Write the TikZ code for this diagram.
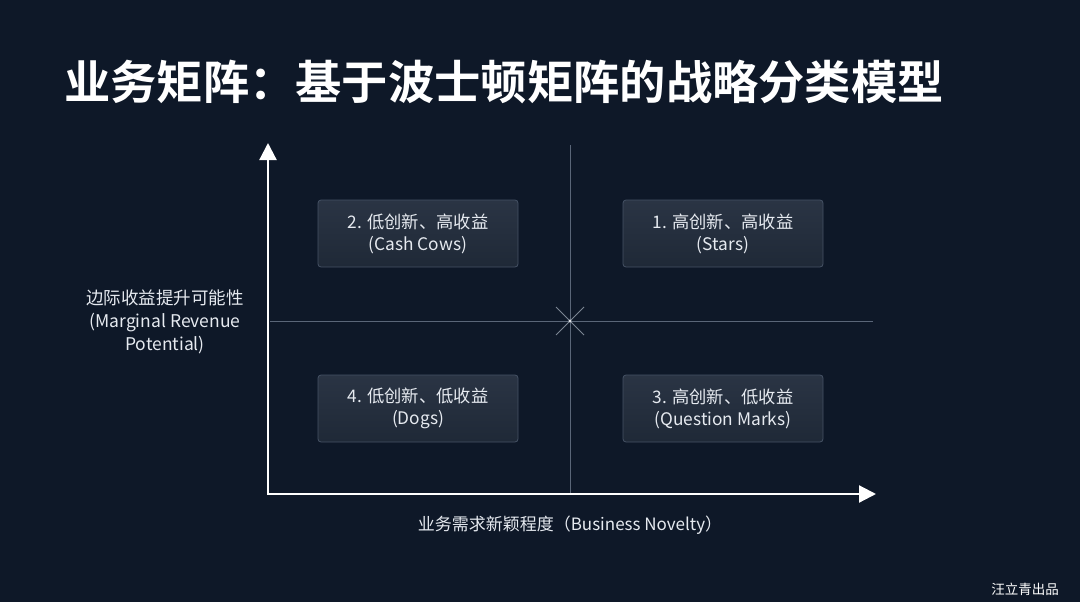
\documentclass[tikz,border=0pt]{standalone}
\usepackage{fontspec}
\setmainfont{Noto Sans CJK SC}
\newfontfamily\cjkbold{Noto Sans CJK SC Bold}
\usetikzlibrary{arrows.meta}
\definecolor{bgc}{HTML}{0E1828}
\definecolor{boxtop}{HTML}{2A3444}
\definecolor{boxbot}{HTML}{1F2937}
\definecolor{boxline}{HTML}{465265}
\definecolor{gridc}{HTML}{5A6678}
\definecolor{txt}{HTML}{E6EAF0}
\tikzset{
  quad/.style={draw=boxline, line width=0.8pt, top color=boxtop, bottom color=boxbot, rounded corners=3pt,
    minimum width=200pt, minimum height=67pt, inner sep=0pt, align=center, text=txt,
    font=\fontsize{17.3}{22}\selectfont},
  axis/.style={draw=white, line width=2.2pt, -{Triangle[length=17pt,width=17pt]}},
  gridline/.style={draw=gridc, line width=0.9pt},
  lbl/.style={text=txt, align=center, inner sep=0pt, font=\fontsize{17.5}{23}\selectfont}
}
\begin{document}
\begin{tikzpicture}[x=1pt,y=-1pt]
\fill[bgc] (0,0) rectangle (1080,602);
\useasboundingbox (0,0) rectangle (1080,602);
% title
\node[anchor=west, text=white, inner sep=0pt, font=\cjkbold\fontsize{46.3}{50}\selectfont] (title) at (64,82) {业务矩阵：基于波士顿矩阵的战略分类模型};
% coordinates
\coordinate (origin) at (268,494);
\coordinate (ytop) at (268,143);
\coordinate (xend) at (876,494);
\coordinate (vtop) at (570,145);
\coordinate (vbot) at (570,494);
\coordinate (hl) at (270,321);
\coordinate (hr) at (873,321);
\coordinate (c) at (570,321);
% grid
\draw[gridline] (vtop) -- (vbot);
\draw[gridline] (hl) -- (hr);
\draw[gridc!80!white, line width=0.8pt] ([shift={(-14,-14)}]c) -- ([shift={(14,14)}]c);
\draw[gridc!80!white, line width=0.8pt] ([shift={(-14,14)}]c) -- ([shift={(14,-14)}]c);
\fill[white!80!gridc] (c) circle (1.6pt);
% axes
\draw[axis] ([yshift=1.1pt]origin) -- (ytop);
\draw[axis] ([xshift=-1.1pt]origin) -- (xend);
% boxes
\node[quad] (q2) at (418,233.5) {2. 低创新、高收益\\(Cash Cows)};
\node[quad] (q1) at (723,233.5) {1. 高创新、高收益\\(Stars)};
\node[quad] (q4) at (418,408.5) {4. 低创新、低收益\\(Dogs)};
\node[quad] (q3) at (723,408.5) {3. 高创新、低收益\\(Question Marks)};
% labels
\node[lbl] (ylabel) at (165,322) {边际收益提升可能性\\(Marginal Revenue\\Potential)};
\node[lbl, font=\fontsize{17}{22}\selectfont] (xlabel) at (570,525) {业务需求新颖程度（Business Novelty）};
\node[text=white, inner sep=0pt, font=\fontsize{13.5}{16}\selectfont] (mark) at (1025,589) {汪立青出品};
\end{tikzpicture}
\end{document}
